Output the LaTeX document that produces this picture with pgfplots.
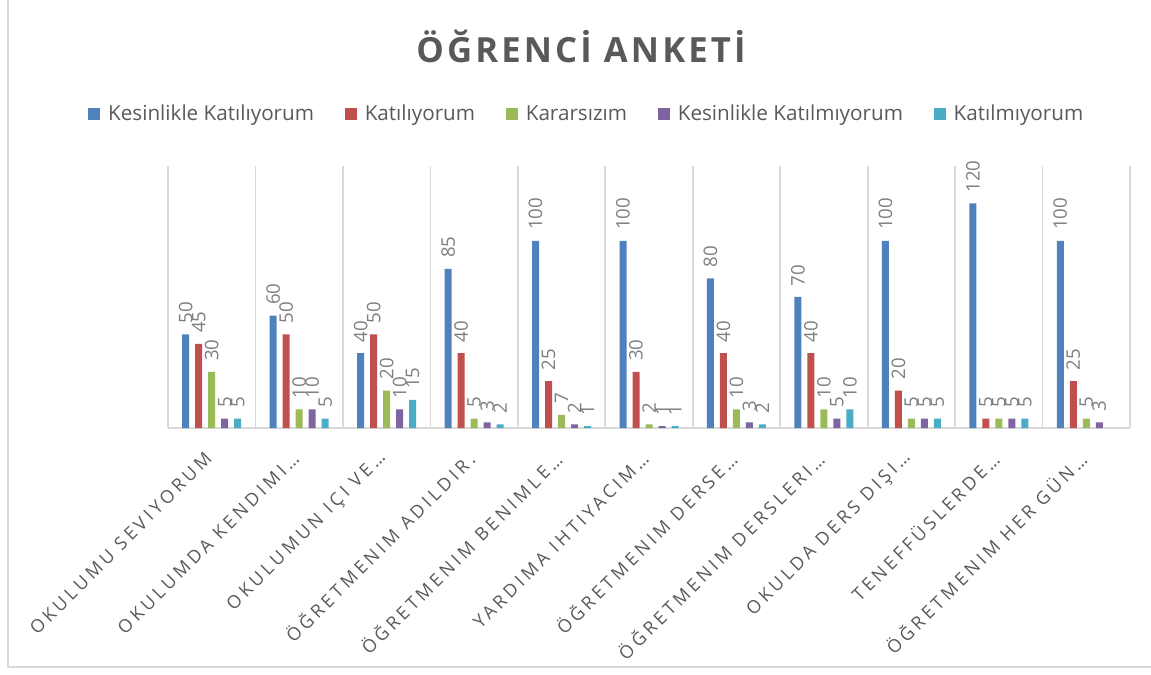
\documentclass[border=0pt]{standalone}
\usepackage{pgfplots}
\pgfplotsset{compat=1.18}
\usepackage{fontspec}
\setmainfont{Open Sans}
\newfontfamily\titlefont[LetterSpace=9]{Open Sans}
\newfontfamily\tickfont[LetterSpace=20]{Open Sans}
\definecolor{cBlue}{HTML}{4F81BD}
\definecolor{cRed}{HTML}{C0504D}
\definecolor{cGreen}{HTML}{9BBB59}
\definecolor{cPurple}{HTML}{8064A2}
\definecolor{cCyan}{HTML}{4BACC6}
\definecolor{txt}{HTML}{595959}
\definecolor{lbl}{HTML}{7F7F7F}
\definecolor{gridc}{HTML}{D9D9D9}
\begin{document}
\begin{tikzpicture}
\useasboundingbox (0pt,0pt) rectangle (863.25pt,505.5pt);
\draw[gridc, line width=1.3pt] (6pt,505.5pt) -- (6pt,5.25pt) -- (863.25pt,5.25pt);
\node[font=\titlefont\bfseries\fontsize{26}{26}\selectfont, text=txt] at (435.75pt,471pt) {ÖĞRENCİ ANKETİ};
\begin{axis}[
  at={(126pt,184.5pt)}, anchor=south west,
  scale only axis, width=721.5pt, height=196.5pt,
  ybar=4.5pt, bar width=5.25pt,
  xmin=-0.5, xmax=10.5, ymin=0, ymax=140,
  xtick={0,...,10},
  xticklabels={{OKULUMU SEVIYORUM},{OKULUMDA KENDIMI…},{OKULUMUN IÇI VE…},{ÖĞRETMENIM ADILDIR.},{ÖĞRETMENIM BENIMLE…},{YARDIMA IHTIYACIM…},{ÖĞRETMENIM DERSE…},{ÖĞRETMENIM DERSLERI…},{OKULDA DERS DIŞI…},{TENEFFÜSLERDE…},{ÖĞRETMENIM HER GÜN…}},
  xticklabel style={font=\tickfont\fontsize{13.5}{13.5}\selectfont, text=txt, yshift=-14pt, rotate=45, anchor=east},
  ytick=\empty,
  minor xtick={-0.5,0.5,...,10.5},
  xminorgrids=true,
  minor grid style={gridc, line width=1.3pt},
  axis x line*=bottom, axis y line*=left,
  axis line style={gridc, line width=1.3pt, -},
  tick style={draw=none},
  clip=false,
  /pgf/number format/assume math mode=true,
  nodes near coords,
  every node near coord/.append style={font=\fontsize{14}{14}\selectfont, text=lbl, rotate=90, anchor=west, inner xsep=8pt, inner ysep=0pt},
  legend columns=5,
  legend style={at={(0.4356,1.198)}, anchor=center, draw=none, fill=none, font=\fontsize{15.5}{18}\selectfont, text=txt,
    /tikz/every even column/.append style={column sep=21pt}},
  legend image code/.code={\path[#1, draw=none] (0pt,-4.5pt) rectangle (9pt,4.5pt); \path (13pt,0pt);},
]
\addplot[fill=cBlue, draw=none] coordinates {(0,50) (1,60) (2,40) (3,85) (4,100) (5,100) (6,80) (7,70) (8,100) (9,120) (10,100)};
\addplot[fill=cRed, draw=none] coordinates {(0,45) (1,50) (2,50) (3,40) (4,25) (5,30) (6,40) (7,40) (8,20) (9,5) (10,25)};
\addplot[fill=cGreen, draw=none] coordinates {(0,30) (1,10) (2,20) (3,5) (4,7) (5,2) (6,10) (7,10) (8,5) (9,5) (10,5)};
\addplot[fill=cPurple, draw=none] coordinates {(0,5) (1,10) (2,10) (3,3) (4,2) (5,1) (6,3) (7,5) (8,5) (9,5) (10,3)};
\addplot[fill=cCyan, draw=none] coordinates {(0,5) (1,5) (2,15) (3,2) (4,1) (5,1) (6,2) (7,10) (8,5) (9,5)};
\legend{Kesinlikle Katılıyorum, Katılıyorum, Kararsızım, Kesinlikle Katılmıyorum, Katılmıyorum}
\end{axis}
\end{tikzpicture}
\end{document}
